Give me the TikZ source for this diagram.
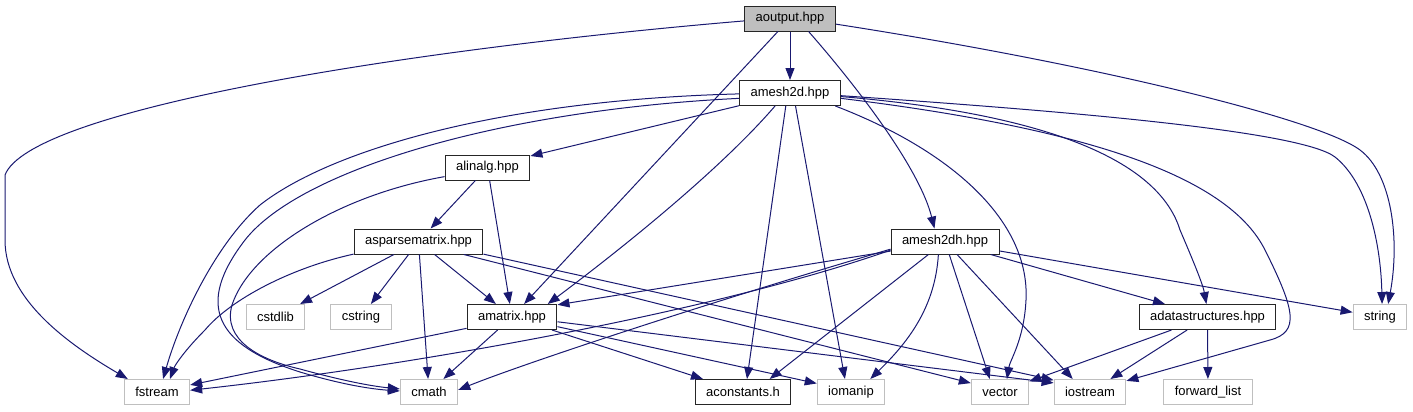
\documentclass[tikz,border=0pt]{standalone}
\usepackage{fontspec}
\setmainfont{Liberation Sans}
\usetikzlibrary{arrows.meta}
\definecolor{edgeblue}{RGB}{25,25,112}
\definecolor{boxgray}{RGB}{191,191,191}

\begin{document}
\begin{tikzpicture}[
  x=0.75pt,
  y=-0.75pt,
  font=\fontsize{9.75}{11}\selectfont,
  file/.style={draw=black!85,line width=0.75pt,fill=white,minimum height=18.75pt,inner xsep=8.25pt,inner ysep=0pt},
  current/.style={file,fill=boxgray},
  system/.style={file,draw=boxgray},
  incl/.style={-{Triangle[length=9pt,width=6.75pt]},draw=edgeblue,line width=0.75pt}
  ]
  \useasboundingbox (0,0) rectangle (1413,411);

  % files of the project
  \node[current] (aoutput) at (790,18.5) {aoutput.hpp};
  \node[file] (amesh2d) at (790,93) {amesh2d.hpp};
  \node[file] (alinalg) at (487.5,167.5) {alinalg.hpp};
  \node[file] (asparsematrix) at (418.5,241.5) {asparsematrix.hpp};
  \node[file] (amesh2dh) at (945,241.5) {amesh2dh.hpp};
  \node[file] (amatrix) at (512,317) {amatrix.hpp};
  \node[file] (adatastructures) at (1207.5,317) {adatastructures.hpp};
  \node[file] (aconstants) at (743,392) {aconstants.h};

  % standard headers
  \node[system] (cstdlib) at (275.5,317) {cstdlib};
  \node[system] (cstring) at (361,317) {cstring};
  \node[system] (string) at (1380,317) {string};
  \node[system] (fstream) at (157,392) {fstream};
  \node[system] (cmath) at (429,392) {cmath};
  \node[system] (iomanip) at (851,392) {iomanip};
  \node[system] (vector) at (1000,392) {vector};
  \node[system] (iostream) at (1090,392) {iostream};
  \node[system] (forwardlist) at (1208,392) {forward\_list};

  % aoutput.hpp
  \draw[incl] (aoutput) -- (amesh2d);
  \draw[incl] (aoutput) -- (amatrix);
  \draw[incl] (aoutput.183) .. controls (400,50) and (30,110) .. (5,175) -- (5,240) .. controls (5,300) and (70,345) .. (fstream.156);
  \draw[incl] (aoutput.-35) .. controls (860,90) and (920,170) .. (amesh2dh.129);
  \draw[incl] (aoutput.-7) .. controls (1100,65) and (1320,120) .. (1360,150) .. controls (1392,174) and (1400,240) .. (string.58);

  % amesh2d.hpp
  \draw[incl] (amesh2d.194) -- (alinalg.15);
  \draw[incl] (amesh2d.181) .. controls (500,100) and (330,150) .. (260,205) .. controls (215,245) and (180,320) .. (fstream.65);
  \draw[incl] (amesh2d.186) .. controls (500,110) and (300,170) .. (245,240) .. controls (195,305) and (215,345) .. (300,372) .. controls (340,384) and (370,389) .. (cmath.178);
  \draw[incl] (amesh2d.221) .. controls (720,170) and (620,250) .. (amatrix.20);
  \draw[incl] (amesh2d.252) -- (aconstants.73);
  \draw[incl] (amesh2d.293) -- (iomanip.115);
  \draw[incl] (amesh2d.-16) .. controls (950,150) and (1030,220) .. (1026,300) .. controls (1024,340) and (1010,360) .. (vector.62);
  \draw[incl] (amesh2d.-4) .. controls (1060,115) and (1160,165) .. (1180,230) .. controls (1195,265) and (1203,285) .. (adatastructures.95);
  \draw[incl] (amesh2d.-6) .. controls (1100,130) and (1230,180) .. (1265,250) .. controls (1295,310) and (1300,332) .. (1270,340) -- (iostream.17);
  \draw[incl] (amesh2d.-3) .. controls (1050,110) and (1300,130) .. (1335,157) .. controls (1370,185) and (1381,250) .. (string.81);

  % alinalg.hpp
  \draw[incl] (alinalg) -- (asparsematrix);
  \draw[incl] (alinalg) -- (amatrix);
  \draw[incl] (alinalg.192) .. controls (340,195) and (250,250) .. (232,305) .. controls (222,340) and (260,360) .. (300,369) .. controls (340,380) and (370,386) .. (cmath.174);

  % asparsematrix.hpp
  \draw[incl] (asparsematrix.191) .. controls (290,268) and (230,300) .. (205,330) .. controls (185,350) and (175,365) .. (fstream.45);
  \draw[incl] (asparsematrix) -- (cstdlib);
  \draw[incl] (asparsematrix) -- (cstring);
  \draw[incl] (asparsematrix) -- (cmath);
  \draw[incl] (asparsematrix) -- (amatrix);
  \draw[incl] (asparsematrix.-16) -- (vector.163);
  \draw[incl] (asparsematrix.-11) -- (iostream.162);

  % amatrix.hpp
  \draw[incl] (amatrix.194) -- (fstream.12);
  \draw[incl] (amatrix) -- (cmath);
  \draw[incl] (amatrix) -- (aconstants);
  \draw[incl] (amatrix.-12) -- (iomanip.166);
  \draw[incl] (amatrix.-6) -- (iostream.166);

  % amesh2dh.hpp
  \draw[incl] (amesh2dh.190) -- (amatrix.15);
  \draw[incl] (amesh2dh.189) .. controls (720,310) and (420,365) .. (fstream.3);
  \draw[incl] (amesh2dh.188) .. controls (700,305) and (520,365) .. (cmath.4);
  \draw[incl] (amesh2dh) -- (aconstants.26);
  \draw[incl] (amesh2dh.243) .. controls (935,310) and (905,345) .. (iomanip.34);
  \draw[incl] (amesh2dh) -- (vector.128);
  \draw[incl] (amesh2dh) -- (iostream.143);
  \draw[incl] (amesh2dh) -- (adatastructures.163);
  \draw[incl] (amesh2dh) -- (string);

  % adatastructures.hpp
  \draw[incl] (adatastructures) -- (vector);
  \draw[incl] (adatastructures) -- (iostream);
  \draw[incl] (adatastructures) -- (forwardlist);
\end{tikzpicture}
\end{document}
